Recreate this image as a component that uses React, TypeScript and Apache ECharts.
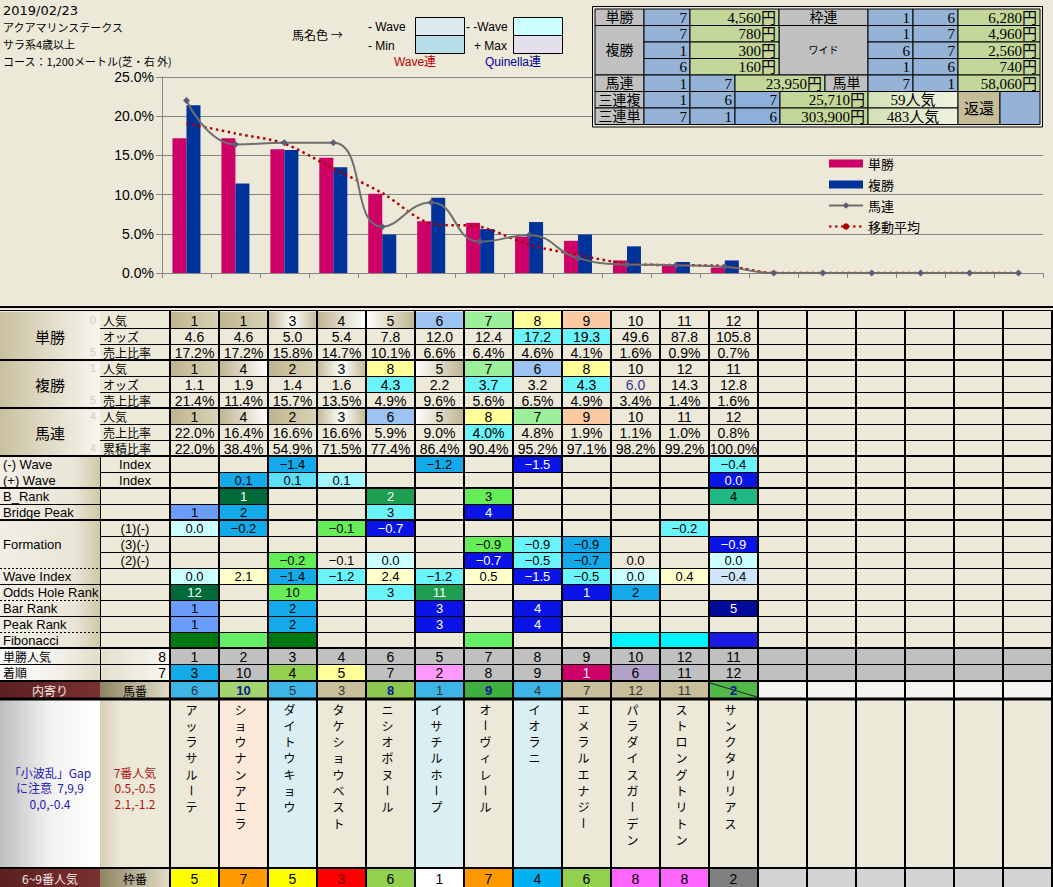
import React, { useEffect, useRef } from 'react';
import * as echarts from 'echarts';

const JP = "'Noto Sans CJK JP', sans-serif";
const SANS = "'Liberation Sans', 'Noto Sans CJK JP', sans-serif";
const SERIF = "'Liberation Serif', 'Noto Sans CJK JP', serif";
const BG = '#ECE9D8';

// ---------- header ----------
const raceDate = '2019/02/23';
const raceName = 'アクアマリンステークス';
const raceClass = 'サラ系4歳以上';
const raceCourse = 'コース：1,200メートル(芝・右 外)';

// ---------- chart data ----------
const categories = ['1', '2', '3', '4', '5', '6', '7', '8', '9', '10', '11', '12', '13', '14', '15', '16', '17', '18'];
const winShare = [17.2, 17.2, 15.8, 14.7, 10.1, 6.6, 6.4, 4.6, 4.1, 1.6, 0.9, 0.7, 0, 0, 0, 0, 0, 0];
const placeShare = [21.4, 11.4, 15.7, 13.5, 4.9, 9.6, 5.6, 6.5, 4.9, 3.4, 1.4, 1.6, 0, 0, 0, 0, 0, 0];
const quinellaShare = [22.0, 16.4, 16.6, 16.6, 5.9, 9.0, 4.0, 4.8, 1.9, 1.1, 1.0, 0.8, 0, 0, 0, 0, 0, 0];
const movingAvg = [19.1, 17.8, 16.5, 13.3, 10.2, 6.3, 5.9, 3.6, 2.3, 1.2, 1.0, 0.9, 0, 0, 0, 0, 0, 0];
const seriesNames = ['単勝', '複勝', '馬連', '移動平均'];

// ---------- payout data ----------
const payWin = ['7', '4,560円'];
const payPlaceHorses = ['7', '1', '6'];
const payPlaceAmts = ['780円', '300円', '160円'];
const payBracket = ['1', '6', '6,280円'];
const payWidePairs = [['1', '7'], ['6', '7'], ['1', '6']];
const payWideAmts = ['4,960円', '2,560円', '740円'];
const payQuinella = ['1', '7', '23,950円'];
const payExacta = ['7', '1', '58,060円'];
const payTrio = ['1', '6', '7', '25,710円', '59人気'];
const payTrifecta = ['7', '1', '6', '303,900円', '483人気'];

// ---------- table data ----------
const blockLabels = ['単勝', '複勝', '馬連'];
const blockSubLabels = [['人気', 'オッズ', '売上比率'], ['人気', 'オッズ', '売上比率'], ['人気', '売上比率', '累積比率']];
const blockHints = [['0', '', '5'], ['1', '', '5'], ['4', '', '4']];
const winPop = [1, 1, 3, 4, 5, 6, 7, 8, 9, 10, 11, 12];
const winOdds = ['4.6', '4.6', '5.0', '5.4', '7.8', '12.0', '12.4', '17.2', '19.3', '49.6', '87.8', '105.8'];
const winOddsFill = ['', '', '', '', '', '', '', 'cyan', 'cyan', '', '', ''];
const placePop = [1, 4, 2, 3, 8, 5, 7, 6, 8, 10, 12, 11];
const placeOdds = ['1.1', '1.9', '1.4', '1.6', '4.3', '2.2', '3.7', '3.2', '4.3', '6.0', '14.3', '12.8'];
const placeOddsFill = ['', '', '', '', 'cyan', '', 'cyan', '', 'cyan', '', '', ''];
const quinellaPop = [1, 4, 2, 3, 6, 5, 8, 7, 9, 10, 11, 12];
const quinellaShareFill = ['', '', '', '', '', '', 'cyan', '', '', '', '', ''];
const quinellaCum = [22.0, 38.4, 54.9, 71.5, 77.4, 86.4, 90.4, 95.2, 97.1, 98.2, 99.2, 100.0];

const waveLabels = ['(-) Wave', '(+) Wave', 'B_Rank', 'Bridge Peak', '', 'Formation', '', 'Wave Index', 'Odds Hole Rank', 'Bar Rank', 'Peak Rank', 'Fibonacci'];
const waveSubLabels = ['Index', 'Index', '', '', '(1)(-)', '(3)(-)', '(2)(-)', '', '', '', '', ''];
const minusWave = ['', '', '-1.4', '', '', '-1.2', '', '-1.5', '', '', '', '-0.4'];
const minusWaveFill = ['', '', 'sky', '', '', 'sky', '', 'blue', '', '', '', 'cyan'];
const plusWave = ['', '0.1', '0.1', '0.1', '', '', '', '', '', '', '', '0.0'];
const plusWaveFill = ['', 'sky', 'cyan2', 'cyan3', '', '', '', '', '', '', '', 'blue'];
const bRank = ['', '1', '', '', '2', '', '3', '', '', '', '', '4'];
const bRankFill = ['', 'dgreen', '', '', 'mgreen', '', 'lgreen', '', '', '', '', 'teal'];
const bridgePeak = ['1', '2', '', '', '3', '', '4', '', '', '', '', ''];
const bridgePeakFill = ['cfblue', 'sky', '', '', 'cyan', '', 'blue', '', '', '', '', ''];
const form1 = ['0.0', '-0.2', '', '-0.1', '-0.7', '', '', '', '', '', '-0.2', ''];
const form1Fill = ['lcyan', 'sky', '', 'lgreen', 'blue', '', '', '', '', '', 'cyan', ''];
const form3 = ['', '', '', '', '', '', '-0.9', '-0.9', '-0.9', '', '', '-0.9'];
const form3Fill = ['', '', '', '', '', '', 'lgreen', 'cyan', 'sky', '', '', 'blue'];
const form2 = ['', '', '-0.2', '-0.1', '0.0', '', '-0.7', '-0.5', '-0.7', '0.0', '', '0.0'];
const form2Fill = ['', '', 'lgreen', '', 'lcyan', '', 'blue', 'cyan', 'sky', '', '', 'lcyan'];
const waveIndex = ['0.0', '2.1', '-1.4', '-1.2', '2.4', '-1.2', '0.5', '-1.5', '-0.5', '0.0', '0.4', '-0.4'];
const waveIndexFill = ['lcyan', 'lyellow', 'sky', 'cyan', 'lyellow', 'cyan', 'lyellow', 'blue', 'cyan', 'lcyan', 'lyellow', 'pblue'];
const oddsHole = ['12', '', '10', '', '3', '11', '', '', '1', '2', '', ''];
const oddsHoleFill = ['dgreen', '', 'lgreen', '', 'cyan', 'mgreen', '', '', 'blue', 'sky', '', ''];
const barRank = ['1', '', '2', '', '', '3', '', '4', '', '', '', '5'];
const barRankFill = ['cfblue', '', 'sky', '', '', 'blue', '', 'blue', '', '', '', 'navy'];
const peakRank = ['1', '', '2', '', '', '3', '', '4', '', '', '', ''];
const peakRankFill = ['cfblue', '', 'sky', '', '', 'blue', '', 'blue', '', '', '', ''];
const fibonacci = ['', '', '', '', '', '', '', '', '', '', '', ''];
const fibonacciFill = ['fdark', 'flight', 'fdark', '', '', '', 'flight', '', '', 'fcyan', 'fcyan', 'fblue'];

const winPopRow = [1, 2, 3, 4, 6, 5, 7, 8, 9, 10, 12, 11];
const finishOrder = [3, 10, 4, 5, 7, 2, 8, 9, 1, 6, 11, 12];
const finishFill = ['sky', '', 'green', 'yellow', '', 'pink', '', '', 'magenta', 'lavender', '', ''];
const horseNo = [6, 10, 5, 3, 8, 1, 9, 4, 7, 12, 11, 2];
const horseNoFill = ['usky', 'ulgreen', 'usky', 'utan', 'ugreen', 'usky', 'udgreen', 'usky', 'utan', 'utan', 'utan', 'ugreen2'];
const horseNoBold = [false, true, false, false, true, false, true, false, false, false, false, true];
const horseNames = ['アッラサルーテ', 'ショウナンアエラ', 'ダイトウキョウ', 'タケショウベスト', 'ニシオボヌール', 'イサチルホープ', 'オーヴィレール', 'イオラニ', 'エメラルエナジー', 'パラダイスガーデン', 'ストロングトリトン', 'サンクタリリアス'];
const nameFill = ['', 'npeach', 'nblue', '', '', 'nblue', '', 'nblue', '', '', '', ''];
const frameNo = [5, 7, 5, 3, 6, 1, 7, 4, 6, 8, 8, 2];
const noteLeft = ['「小波乱」Gap', 'に注意  7,9,9', '0,0,-0.4'];
const noteRight = ['7番人気', '0.5,-0.5', '2.1,-1.2'];

const PAL: Record<string, string> = {
  sky: '#14A9E8', cyan: '#6AF4FA', cyan2: '#5FDFF5', cyan3: '#A2F6FF', lcyan: '#CCFFFF',
  blue: '#0A14E6', navy: '#000C99', cfblue: '#6A9CF8', dgreen: '#006B38', mgreen: '#1E9E50',
  lgreen: '#66EE58', teal: '#1FB882', lyellow: '#FFFFCC', pblue: '#CFE6FA',
  fdark: '#007A10', flight: '#66EE66', fcyan: '#00F5FF', fblue: '#1A1AE0',
  green: '#92D050', yellow: '#FFFF99', pink: '#FF99FF', magenta: '#CC0066', lavender: '#B1A0C7',
  usky: '#3DB5E6', ulgreen: '#A2D470', utan: '#C8BF9A', ugreen: '#8CC850', udgreen: '#3FB040', ugreen2: '#52B84A',
  npeach: '#FDE9D9', nblue: '#DAEEF3',
};
const WHITE_TEXT = ['blue', 'navy', 'dgreen', 'mgreen', 'magenta'];
const FRAME_COLORS: Record<number, string> = { 1: '#FFFFFF', 2: '#808080', 3: '#FF0000', 4: '#00B0F0', 5: '#FFFF00', 6: '#92D050', 7: '#FF9900', 8: '#FF66FF' };

const X0 = 170, CW = 49, NC = 18, Y0 = 312, RH = 16;
const colX = (i: number) => X0 + CW * i;
const rowY = (r: number) => Y0 + RH * r;
const pct = (v: number) => v.toFixed(1) + '%';

const grad = (stops: [number, string][], horiz = true) =>
  new echarts.graphic.LinearGradient(0, 0, horiz ? 1 : 0, horiz ? 0 : 1, stops.map(([offset, color]) => ({ offset, color })));

const popFill = (v: number): any => {
  if (v === 1 || v === 2) return grad([[0, '#BEB48E'], [1, '#D9D2B5']]);
  if (v === 3) return grad([[0, '#C2B994'], [0.5, '#FFFFFF'], [1, '#C2B994']]);
  if (v === 4) return grad([[0, '#BEB48E'], [1, '#FFFFFF']]);
  if (v === 5) return grad([[0, '#FFFFFF'], [1, '#BEB48E']]);
  if (v === 6) return '#9CC3F2';
  if (v === 7) return '#9CF09C';
  if (v === 8) return '#FFFF99';
  if (v === 9) return '#FBC9A2';
  return null;
};

function T(x: number, y: number, s: string, o: any = {}) {
  const align = o.align ?? 'center';
  return {
    type: 'text', x, y, z: o.z ?? 30, rotation: o.rot ?? 0, silent: true,
    style: {
      text: s, fill: o.color ?? '#000', fontSize: o.size ?? 13, fontFamily: o.font ?? SANS,
      fontWeight: o.bold ? 'bold' : 'normal', align, verticalAlign: 'middle', textAlign: align, textVerticalAlign: 'middle',
    },
  };
}
function R(x: number, y: number, w: number, h: number, fill: any, o: any = {}) {
  return {
    type: 'rect', z: o.z ?? 5, silent: true, shape: { x, y, width: w, height: h },
    style: { fill: fill ?? 'none', stroke: o.stroke ?? null, lineWidth: o.lw ?? 0 },
  };
}
function L(x1: number, y1: number, x2: number, y2: number, o: any = {}) {
  return {
    type: 'line', z: o.z ?? 20, silent: true, shape: { x1, y1, x2, y2 },
    style: { stroke: o.color ?? '#000', lineWidth: o.lw ?? 1, lineDash: o.dash ?? null },
  };
}

function buildGraphics() {
  const g: any[] = [];
  // header texts
  g.push(T(3, 10, raceDate, { align: 'left', size: 13, font: "'DejaVu Sans', sans-serif" }));
  g.push(T(3, 27, raceName, { align: 'left', size: 11, font: JP }));
  g.push(T(3, 44, raceClass, { align: 'left', size: 11, font: JP }));
  g.push(T(3, 61, raceCourse, { align: 'left', size: 11, font: JP }));

  // colour legend
  g.push(T(292, 34, '馬名色 →', { align: 'left', size: 12, font: JP }));
  g.push(T(368, 27, '- Wave', { align: 'left', size: 12 }));
  g.push(T(368, 46, '- Min', { align: 'left', size: 12 }));
  g.push(R(415.5, 17.5, 49, 18, '#DDEBF1', { stroke: '#000', lw: 1 }));
  g.push(R(415.5, 35.5, 49, 18, '#B7DDE8', { stroke: '#000', lw: 1 }));
  g.push(T(466, 27, '- -Wave', { align: 'left', size: 12 }));
  g.push(T(474, 46, '+ Max', { align: 'left', size: 12 }));
  g.push(R(513.5, 17.5, 49, 18, '#CCFFFF', { stroke: '#000', lw: 1 }));
  g.push(R(513.5, 35.5, 49, 18, '#E4DFEC', { stroke: '#000', lw: 1 }));
  g.push(T(415, 62, 'Wave連', { size: 12, color: '#C00000' }));
  g.push(T(513, 62, 'Quinella連', { size: 12, color: '#000099' }));

  // payout table
  const GRAY = '#C0C0C0', PB = '#95B3D7', PG = '#C4D79B';
  const PY = [9, 25.5, 42, 58.5, 75, 91.5, 108, 124.5];
  const pz = 100;
  const cell = (x1: number, x2: number, r1: number, r2: number, fill: any, s: string, align = 'right', size = 15) => {
    const y1 = PY[r1], y2 = PY[r2 + 1];
    g.push(R(x1, y1, x2 - x1, y2 - y1, fill, { stroke: '#000', lw: 1, z: pz }));
    if (s) {
      const tx = align === 'right' ? x2 - 3 : (x1 + x2) / 2;
      g.push(T(tx, (y1 + y2) / 2 + 0.5, s, { align, size, font: SERIF, z: pz + 2 }));
    }
  };
  g.push(R(592.5, 6.5, 450, 120.5, BG, { stroke: '#000', lw: 1, z: pz - 1 }));
  cell(595, 644, 0, 0, GRAY, '単勝', 'center', 14);
  cell(644, 690, 0, 0, PB, payWin[0]);
  cell(690, 779, 0, 0, PG, payWin[1]);
  cell(779, 868, 0, 0, GRAY, '枠連', 'center', 14);
  cell(868, 913, 0, 0, PB, payBracket[0]);
  cell(913, 958, 0, 0, PB, payBracket[1]);
  cell(958, 1040, 0, 0, PG, payBracket[2]);
  cell(595, 644, 1, 3, GRAY, '複勝', 'center', 14);
  cell(779, 868, 1, 3, GRAY, 'ワイド', 'center', 10);
  for (let i = 0; i < 3; i++) {
    cell(644, 690, 1 + i, 1 + i, PB, payPlaceHorses[i]);
    cell(690, 779, 1 + i, 1 + i, PG, payPlaceAmts[i]);
    cell(868, 913, 1 + i, 1 + i, PB, payWidePairs[i][0]);
    cell(913, 958, 1 + i, 1 + i, PB, payWidePairs[i][1]);
    cell(958, 1040, 1 + i, 1 + i, PG, payWideAmts[i]);
  }
  cell(595, 644, 4, 4, GRAY, '馬連', 'center', 14);
  cell(644, 690, 4, 4, PB, payQuinella[0]);
  cell(690, 735, 4, 4, PB, payQuinella[1]);
  cell(735, 825, 4, 4, PG, payQuinella[2]);
  cell(825, 868, 4, 4, GRAY, '馬単', 'center', 14);
  cell(868, 913, 4, 4, PB, payExacta[0]);
  cell(913, 958, 4, 4, PB, payExacta[1]);
  cell(958, 1040, 4, 4, PG, payExacta[2]);
  const popGrad = grad([[0, '#D3E0B5'], [1, '#EEF3E2']]);
  [[payTrio, '三連複'], [payTrifecta, '三連単']].forEach(([d, lab]: any, k) => {
    const r = 5 + k;
    cell(595, 644, r, r, GRAY, lab, 'center', 14);
    cell(644, 690, r, r, PB, d[0]);
    cell(690, 735, r, r, PB, d[1]);
    cell(735, 780, r, r, '#8DB0DA', d[2]);
    cell(780, 868, r, r, PG, d[3]);
    cell(868, 958, r, r, popGrad, d[4], 'center', 15);
  });
  cell(958, 1000, 5, 6, '#C4BD97', '返還', 'center', 15);
  cell(1000, 1040, 5, 6, '#95B3D7', '');

  // ---------- big table ----------
  g.push(L(0, 307, 1053, 307, { lw: 2 }));
  g.push(L(0, 310.5, 1053, 310.5, { lw: 1 }));

  // top blocks (rows 0-8)
  const topVals: string[][] = [
    winPop.map(String), winOdds, winShare.slice(0, 12).map(pct),
    placePop.map(String), placeOdds, placeShare.slice(0, 12).map(pct),
    quinellaPop.map(String), quinellaShare.slice(0, 12).map(pct), quinellaCum.map(pct),
  ];
  const topFill: any[][] = [
    winPop.map(popFill), winOddsFill.map((k) => PAL[k] ?? null), [],
    placePop.map(popFill), placeOddsFill.map((k) => PAL[k] ?? null), [],
    quinellaPop.map(popFill), quinellaShareFill.map((k) => PAL[k] ?? null), [],
  ];
  for (let b = 0; b < 3; b++) {
    const by = rowY(b * 3);
    g.push(R(0, by, 100, 48, grad([[0, '#C9C0A0'], [0.55, '#E4DFCD'], [1, '#F7F5EF']])));
    g.push(T(50, by + 24, blockLabels[b], { size: 15, font: JP }));
    for (let s = 0; s < 3; s++) {
      const cy = rowY(b * 3 + s) + 8;
      g.push(T(103, cy, blockSubLabels[b][s], { align: 'left', size: 12, font: JP }));
      if (blockHints[b][s]) g.push(T(93, cy, blockHints[b][s], { size: 11, color: '#D2CEC2' }));
    }
  }
  for (let r = 0; r < 9; r++) {
    for (let c = 0; c < NC; c++) {
      const f = c < 12 ? topFill[r][c] : null;
      if (f) g.push(R(colX(c), rowY(r), CW, RH, f));
      if (c < 12) {
        const color = r === 4 && c === 9 ? '#33339A' : '#000';
        g.push(T(colX(c) + CW / 2, rowY(r) + 8.5, topVals[r][c], { size: 14, color }));
      }
    }
  }

  // wave rows (rows 9-20)
  const waveVals = [minusWave, plusWave, bRank, bridgePeak, form1, form3, form2, waveIndex, oddsHole, barRank, peakRank, fibonacci];
  const waveFills = [minusWaveFill, plusWaveFill, bRankFill, bridgePeakFill, form1Fill, form3Fill, form2Fill, waveIndexFill, oddsHoleFill, barRankFill, peakRankFill, fibonacciFill];
  g.push(R(0, rowY(9), 100, RH * 12, grad([[0, '#F1EFE6'], [0.75, '#E9E5D6'], [1, '#CFC7A7']])));
  for (let k = 0; k < 12; k++) {
    const r = 9 + k;
    const cy = rowY(r) + 8.5;
    if (waveLabels[k] && k !== 5) g.push(T(3, cy, waveLabels[k], { align: 'left', size: 13 }));
    if (waveSubLabels[k]) g.push(T(135, cy, waveSubLabels[k], { size: 13 }));
    for (let c = 0; c < 12; c++) {
      const key = waveFills[k][c];
      if (key) g.push(R(colX(c), rowY(r), CW, RH, PAL[key]));
      if (waveVals[k][c]) {
        g.push(T(colX(c) + CW / 2, cy, waveVals[k][c].replace('-', '−'), { size: 13, color: WHITE_TEXT.includes(key) ? '#FFFFFF' : '#000' }));
      }
    }
  }
  g.push(T(3, rowY(14) + 8.5, waveLabels[5], { align: 'left', size: 13 }));

  // rows 21-22 (gray)
  g.push(R(0, rowY(21), 100, 32, grad([[0, '#FFFFFF'], [0.6, '#F2F0E8'], [1, '#E2DCC8']])));
  g.push(R(100, rowY(21), 70, 32, grad([[0, '#E4DFCC'], [1, '#F8F7F2']])));
  g.push(T(3, rowY(21) + 8.5, '単勝人気', { align: 'left', size: 12, font: JP }));
  g.push(T(3, rowY(22) + 8.5, '着順', { align: 'left', size: 12, font: JP }));
  g.push(T(166, rowY(21) + 8.5, '8', { align: 'right', size: 14 }));
  g.push(T(166, rowY(22) + 8.5, '7', { align: 'right', size: 14 }));
  for (let c = 0; c < NC; c++) {
    g.push(R(colX(c), rowY(21), CW, 32, '#C0C0C0'));
    if (c < 12) {
      g.push(T(colX(c) + CW / 2, rowY(21) + 8.5, String(winPopRow[c]), { size: 14 }));
      const fk = finishFill[c];
      if (fk) g.push(R(colX(c), rowY(22), CW, RH, PAL[fk]));
      g.push(T(colX(c) + CW / 2, rowY(22) + 8.5, String(finishOrder[c]), { size: 14, color: WHITE_TEXT.includes(fk) ? '#FFFFFF' : '#000' }));
    }
  }

  // 馬番 row
  const HY = 682, HH = 16;
  g.push(R(0, HY, 100, HH, grad([[0, '#5C2020'], [1, '#7A3030']])));
  g.push(R(100, HY, 70, HH, grad([[0, '#8F8562'], [1, '#E2DDC8']])));
  g.push(T(50, HY + 8.5, '内寄り', { size: 12, font: JP, color: '#F4E6E6' }));
  g.push(T(135, HY + 8.5, '馬番', { size: 12, font: JP }));
  for (let c = 0; c < NC; c++) {
    if (c < 12) {
      g.push(R(colX(c), HY, CW, HH, PAL[horseNoFill[c]]));
      g.push(T(colX(c) + CW / 2, HY + 8.5, String(horseNo[c]), { size: 13, bold: horseNoBold[c], color: horseNoBold[c] ? '#0A1A9A' : '#333' }));
    } else {
      g.push(R(colX(c), HY, CW, HH, '#F3F3F0'));
    }
  }
  g.push(L(colX(11) + 1, HY + 1, colX(12) - 1, HY + HH - 1, { lw: 1, color: '#222', z: 31 }));

  // names area
  const NY = 700, NH = 167;
  g.push(R(0, NY, 100, NH, grad([[0, '#BDBDBD'], [0.5, '#F2F2F2'], [1, '#FFFFFF']])));
  g.push(R(100, NY, 70, NH, grad([[0, '#D6CEB4'], [0.3, '#ECE9D8'], [1, '#ECE9D8']])));
  noteLeft.forEach((s, i) => g.push(T(50, 772 + i * 15.5, s, { size: 12, font: JP, color: '#2020B0' })));
  noteRight.forEach((s, i) => g.push(T(135, 772 + i * 15.5, s, { size: 12, font: JP, color: '#B01010' })));
  for (let c = 0; c < 12; c++) {
    const fk = nameFill[c];
    if (fk) g.push(R(colX(c), NY, CW, NH, PAL[fk]));
    const chars = Array.from(horseNames[c]);
    chars.forEach((ch, j) => {
      g.push(T(colX(c) + CW / 2 - 3, 709 + j * 16.3, ch, { size: 12, font: JP, rot: ch === 'ー' ? -Math.PI / 2 : 0 }));
    });
  }

  // 枠番 row
  const FY = 869, FH = 18;
  g.push(R(0, FY, 100, FH, grad([[0, '#5C2020'], [1, '#7A3030']])));
  g.push(R(100, FY, 70, FH, grad([[0, '#8F8562'], [1, '#E2DDC8']])));
  g.push(T(50, FY + 9, '6~9番人気', { size: 12, font: JP, color: '#F4E6E6' }));
  g.push(T(135, FY + 9, '枠番', { size: 12, font: JP }));
  for (let c = 0; c < NC; c++) {
    const fill = c < 12 ? FRAME_COLORS[frameNo[c]] : '#D4D4D4';
    g.push(R(colX(c), FY, CW, FH, fill));
    if (c < 12) g.push(T(colX(c) + CW / 2, FY + 9.5, String(frameNo[c]), { size: 14, color: frameNo[c] === 3 ? '#7A0000' : '#000' }));
  }

  // ---------- grid lines ----------
  for (let i = 0; i <= NC; i++) g.push(L(colX(i), 311, colX(i), 887, { lw: 2 }));
  g.push(L(100.5, rowY(9), 100.5, rowY(23), { lw: 1 }));
  const thin = (y: number, x1 = 100) => g.push(L(x1, y + 0.5, 1053, y + 0.5, { lw: 1 }));
  const thick = (y: number) => g.push(L(0, y, 1053, y, { lw: 2 }));
  const dashed = (y: number) => {
    g.push(L(0, y + 0.5, 100, y + 0.5, { lw: 1, dash: [2, 2] }));
    g.push(L(100, y + 0.5, 1053, y + 0.5, { lw: 1 }));
  };
  [1, 2, 4, 5, 7, 8].forEach((r) => thin(rowY(r)));
  [3, 6, 9].forEach((r) => thick(rowY(r)));
  thin(rowY(10));
  thick(rowY(11));
  thin(rowY(12), 0);
  thick(rowY(13));
  thin(rowY(14));
  thin(rowY(15));
  dashed(rowY(16));
  thin(rowY(17), 0);
  dashed(rowY(18));
  thin(rowY(19), 0);
  dashed(rowY(20));
  thick(rowY(21));
  thin(rowY(22), 0);
  thick(681);
  g.push(L(0, 699, 1053, 699, { lw: 3 }));
  thick(868);
  return g;
}

function buildOption() {
  return {
    animation: false,
    backgroundColor: BG,
    grid: { left: 162, top: 77, width: 881, height: 196, containLabel: false },
    legend: {
      orient: 'vertical', left: 823, top: 152, itemWidth: 34, itemHeight: 8, itemGap: 8,
      textStyle: { fontSize: 13, fontFamily: JP, color: '#000' },
      data: [{ name: seriesNames[0], icon: 'rect' }, { name: seriesNames[1], icon: 'rect' }, { name: seriesNames[2] }, { name: seriesNames[3] }],
    },
    xAxis: {
      type: 'category', data: categories, boundaryGap: true,
      axisLine: { lineStyle: { color: '#868686' } },
      axisTick: { show: true, interval: 0, length: 5, lineStyle: { color: '#868686' } },
      axisLabel: { show: false }, splitLine: { show: false },
    },
    yAxis: {
      type: 'value', min: 0, max: 25, interval: 5,
      axisLine: { show: true, lineStyle: { color: '#868686' } },
      axisTick: { show: true, length: 6, lineStyle: { color: '#868686' } },
      splitLine: { show: true, lineStyle: { color: '#868686' } },
      axisLabel: { formatter: (v: number) => v.toFixed(1) + '%', color: '#000', fontSize: 14, fontFamily: SANS, margin: 8 },
    },
    series: [
      { name: seriesNames[0], type: 'bar', data: winShare, barWidth: 14, barGap: '0%', itemStyle: { color: '#CC0066' } },
      { name: seriesNames[1], type: 'bar', data: placeShare, barWidth: 14, barGap: '0%', itemStyle: { color: '#003399' } },
      {
        name: seriesNames[2], type: 'line', data: quinellaShare, smooth: 0.5, symbol: 'diamond', symbolSize: 7,
        itemStyle: { color: '#5B5B7A' }, lineStyle: { color: '#6E6E6E', width: 2 }, z: 4,
      },
      {
        name: seriesNames[3], type: 'line', data: movingAvg, smooth: 0.3, symbol: 'none',
        itemStyle: { color: '#B00000' }, lineStyle: { color: '#B00000', width: 2.5, type: [2.5, 3.5] }, z: 3,
      },
    ],
    graphic: { elements: buildGraphics() },
  };
}

export default function App() {
  const ref = useRef<HTMLDivElement>(null);
  useEffect(() => {
    const chart = echarts.init(ref.current!, null, { renderer: 'svg', width: 1053, height: 887 });
    chart.setOption(buildOption() as any);
    return () => chart.dispose();
  }, []);
  return <div ref={ref} style={{ position: 'fixed', left: 0, top: 0, width: 1053, height: 887, background: BG }} />;
}
